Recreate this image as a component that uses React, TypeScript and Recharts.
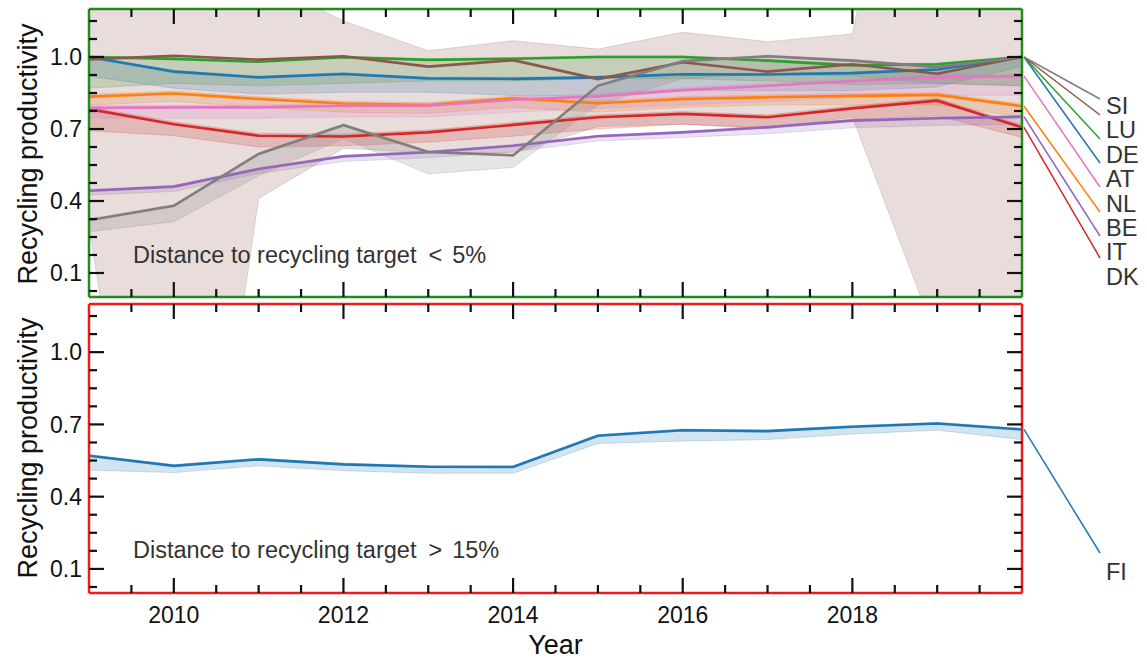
import { Area, ComposedChart, Line, XAxis, YAxis } from "recharts";

const FONT = "'Liberation Sans', Arial, Helvetica, sans-serif";

const years = [2009, 2010, 2011, 2012, 2013, 2014, 2015, 2016, 2017, 2018, 2019, 2020];

// distance to recycling target < 5%
const AT = [1.0, 0.939, 0.915, 0.929, 0.911, 0.909, 0.915, 0.928, 0.927, 0.933, 0.948, 1.0];
const AT_LOW = [0.92, 0.87, 0.845, 0.853, 0.853, 0.84, 0.835, 0.86, 0.86, 0.86, 0.875, 0.96];
const AT_HIGH = [1.0, 0.945, 0.92, 0.935, 0.915, 0.915, 0.92, 0.932, 0.932, 0.938, 0.952, 1.0];

const BE = [0.835, 0.848, 0.825, 0.806, 0.8, 0.828, 0.807, 0.825, 0.832, 0.838, 0.842, 0.795];
const BE_LOW = [0.8, 0.815, 0.79, 0.77, 0.765, 0.79, 0.77, 0.79, 0.8, 0.8, 0.8, 0.75];
const BE_HIGH = [0.845, 0.858, 0.835, 0.816, 0.81, 0.838, 0.817, 0.835, 0.842, 0.848, 0.852, 0.805];

const DE = [1.0, 0.992, 0.98, 0.999, 0.988, 0.993, 1.0, 1.0, 0.985, 0.965, 0.97, 1.0];
const DE_LOW = [0.87, 0.89, 0.88, 0.89, 0.9, 0.9, 0.91, 0.91, 0.9, 0.885, 0.89, 0.88];
const DE_HIGH = [1.005, 0.997, 0.985, 1.004, 0.993, 0.998, 1.005, 1.005, 0.99, 0.97, 0.975, 1.005];

const DK = [0.783, 0.72, 0.672, 0.669, 0.686, 0.717, 0.749, 0.763, 0.749, 0.786, 0.818, 0.707];
const DK_LOW = [0.693, 0.672, 0.625, 0.63, 0.645, 0.67, 0.7, 0.72, 0.705, 0.74, 0.755, 0.665];
const DK_HIGH = [0.793, 0.73, 0.682, 0.679, 0.696, 0.727, 0.759, 0.773, 0.759, 0.796, 0.828, 0.717];

const IT = [0.443, 0.46, 0.533, 0.586, 0.603, 0.63, 0.67, 0.686, 0.707, 0.735, 0.745, 0.751];
const IT_LOW = [0.425, 0.44, 0.515, 0.565, 0.58, 0.605, 0.65, 0.665, 0.68, 0.705, 0.715, 0.72];
const IT_HIGH = [0.448, 0.465, 0.538, 0.591, 0.608, 0.635, 0.675, 0.691, 0.712, 0.74, 0.75, 0.756];

const LU = [0.99, 1.005, 0.989, 1.003, 0.96, 0.987, 0.908, 0.978, 0.939, 0.97, 0.93, 1.0];
const LU_LOW = [0.3, -2.0, 0.41, 0.62, 0.6, 0.6, 0.71, 0.72, 0.7, 0.75, -0.18, -0.8];
const LU_HIGH = [1.6, 2.0, 1.33, 1.15, 1.026, 1.068, 1.033, 1.103, 1.064, 1.096, 2.8, 2.8];

const NL = [0.788, 0.79, 0.79, 0.797, 0.797, 0.822, 0.836, 0.862, 0.88, 0.9, 0.915, 0.92];
const NL_LOW = [0.745, 0.745, 0.745, 0.75, 0.75, 0.77, 0.785, 0.8, 0.815, 0.83, 0.84, 0.84];
const NL_HIGH = [0.798, 0.8, 0.8, 0.807, 0.807, 0.832, 0.846, 0.872, 0.89, 0.91, 0.925, 0.93];

const SI = [0.32, 0.38, 0.596, 0.716, 0.604, 0.59, 0.88, 0.982, 1.003, 0.985, 0.958, 1.0];
const SI_LOW = [0.272, 0.314, 0.505, 0.66, 0.513, 0.54, 0.8, 0.91, 0.93, 0.92, 0.89, 0.88];
const SI_HIGH = [0.325, 0.385, 0.601, 0.721, 0.609, 0.595, 0.885, 0.987, 1.008, 0.99, 0.963, 1.005];

// distance to recycling target > 15%
const FI = [0.57, 0.528, 0.555, 0.534, 0.524, 0.523, 0.653, 0.676, 0.672, 0.69, 0.704, 0.679];
const FI_LOW = [0.51, 0.5, 0.528, 0.508, 0.497, 0.497, 0.621, 0.631, 0.637, 0.66, 0.676, 0.637];
const FI_HIGH = [0.575, 0.533, 0.56, 0.539, 0.529, 0.528, 0.658, 0.681, 0.677, 0.695, 0.709, 0.684];

const xTicks = [2009.5, 2010, 2010.5, 2011, 2011.5, 2012, 2012.5, 2013, 2013.5, 2014, 2014.5, 2015, 2015.5, 2016, 2016.5, 2017, 2017.5, 2018, 2018.5, 2019, 2019.5];
const xMajor = [2010, 2012, 2014, 2016, 2018];
const yTicks = [0.025, 0.1, 0.175, 0.25, 0.325, 0.4, 0.475, 0.55, 0.625, 0.7, 0.775, 0.85, 0.925, 1.0, 1.075, 1.15];
const yMajor = ["0.1", "0.4", "0.7", "1.0"];

// slot = position of the name in the right-hand column, top to bottom
const topSeries = [
  { key: "AT", color: "#1f77b4", values: AT, low: AT_LOW, high: AT_HIGH, slot: 3 },
  { key: "BE", color: "#ff7f0e", values: BE, low: BE_LOW, high: BE_HIGH, slot: 5 },
  { key: "DE", color: "#2ca02c", values: DE, low: DE_LOW, high: DE_HIGH, slot: 2 },
  { key: "DK", color: "#d62728", values: DK, low: DK_LOW, high: DK_HIGH, slot: 7 },
  { key: "IT", color: "#9467bd", values: IT, low: IT_LOW, high: IT_HIGH, slot: 6 },
  { key: "LU", color: "#8c564b", values: LU, low: LU_LOW, high: LU_HIGH, slot: 1 },
  { key: "NL", color: "#e377c2", values: NL, low: NL_LOW, high: NL_HIGH, slot: 4 },
  { key: "SI", color: "#7f7f7f", values: SI, low: SI_LOW, high: SI_HIGH, slot: 0 }
];
const linkEndY = [99, 115, 139, 163, 187, 212, 236, 258];

const W = 1147;
const TOP_H = 300;
const BOTTOM_H = 359;
const LABEL_X = 1106;
const LINK_X = 1100;

const topRows = years.map((year, i) => {
  const row: Record<string, any> = { year };
  topSeries.forEach((s) => {
    row[s.key] = s.values[i];
    row[s.key + "_band"] = [s.low[i], s.high[i]];
  });
  return row;
});

const bottomRows = years.map((year, i) => ({ year, FI: FI[i], FI_band: [FI_LOW[i], FI_HIGH[i]] }));

function xTick(side: "top" | "bottom", labels: boolean) {
  return (props: any) => {
    const { x, y, payload } = props;
    const major = xMajor.includes(payload.value);
    const len = major ? 15 : 8;
    const dir = side === "bottom" ? -1 : 1;
    return (
      <g>
        <line x1={x} x2={x} y1={y} y2={y + dir * len} stroke="#111" strokeWidth={2.2} />
        {labels && major && (
          <text x={x} y={y + 30} textAnchor="middle" fontSize={23} fontFamily={FONT} fill="#111">
            {payload.value}
          </text>
        )}
      </g>
    );
  };
}

function yTick(side: "left" | "right") {
  return (props: any) => {
    const { x, y, payload } = props;
    const text = payload.value.toFixed(1);
    const major = yMajor.includes(text) && Math.abs(payload.value * 10 - Math.round(payload.value * 10)) < 1e-6;
    const len = major ? 15 : 8;
    const dir = side === "left" ? 1 : -1;
    return (
      <g>
        <line x1={x} x2={x + dir * len} y1={y} y2={y} stroke="#111" strokeWidth={2.2} />
        {side === "left" && major && (
          <text x={x - 7} y={y + 8.2} textAnchor="end" fontSize={23} fontFamily={FONT} fill="#111">
            {text}
          </text>
        )}
      </g>
    );
  };
}

function endLabel(name: string, color: string, textY: number, endY: number) {
  return (props: any) => {
    if (props.index !== years.length - 1) return null;
    const px = props.viewBox?.x ?? props.x;
    const py = props.viewBox?.y ?? props.y;
    return (
      <g>
        <line x1={px + 2} y1={py} x2={LINK_X} y2={endY} stroke={color} strokeWidth={1.5} />
        <text x={LABEL_X} y={textY} fontSize={23.5} fontFamily={FONT} fill="#333">
          {name}
        </text>
      </g>
    );
  };
}

// axes of 1px so that they are drawn; they make the coloured frame and the inward ticks
function Axes({ frame, labels }: { frame: string; labels: boolean }) {
  const line = { stroke: frame, strokeWidth: 2.5 };
  return [
    <XAxis key="xb" dataKey="year" type="number" domain={[2009, 2020]} ticks={xTicks} interval={0} height={1}
      tickSize={0} tickMargin={0} tickLine={false} axisLine={line} tick={xTick("bottom", labels)} allowDataOverflow />,
    <XAxis key="xt" xAxisId="top" orientation="top" dataKey="year" type="number" domain={[2009, 2020]} ticks={xTicks}
      interval={0} height={1} tickSize={0} tickMargin={0} tickLine={false} axisLine={line} tick={xTick("top", false)} allowDataOverflow />,
    <YAxis key="yl" type="number" domain={[0, 1.2]} ticks={yTicks} interval={0} width={1} tickSize={0} tickMargin={0}
      tickLine={false} axisLine={line} tick={yTick("left")} allowDataOverflow />,
    <YAxis key="yr" yAxisId="right" orientation="right" type="number" domain={[0, 1.2]} ticks={yTicks} interval={0}
      width={1} tickSize={0} tickMargin={0} tickLine={false} axisLine={line} tick={yTick("right")} allowDataOverflow />
  ];
}

export default function App() {
  return (
    <div style={{ position: "absolute", left: 0, top: 0, width: W, height: 659, background: "#fff" }}>
      <div style={{ position: "absolute", left: 0, top: 0 }}>
        <ComposedChart width={W} height={TOP_H} data={topRows} margin={{ top: 8, right: W - 1023, bottom: 2, left: 88 }}>
          {topSeries.map((s) => (
            <Area key={s.key + "_band"} dataKey={s.key + "_band"} type="linear" fill={s.color} fillOpacity={0.2}
              stroke={s.color} strokeOpacity={0.2} strokeWidth={1} isAnimationActive={false} activeDot={false} />
          ))}
          {topSeries.map((s) => (
            <Line key={s.key} dataKey={s.key} type="linear" stroke={s.color} strokeWidth={2.6} dot={false}
              activeDot={false} isAnimationActive={false}
              label={endLabel(s.key, s.color, 113.9 + 24.4 * s.slot, linkEndY[s.slot])} />
          ))}
          {Axes({ frame: "#1e8c1e", labels: false })}
        </ComposedChart>
      </div>
      <div style={{ position: "absolute", left: 0, top: TOP_H }}>
        <ComposedChart width={W} height={BOTTOM_H} data={bottomRows} margin={{ top: 3, right: W - 1023, bottom: 65, left: 88 }}>
          <Area dataKey="FI_band" type="linear" fill="#1f77b4" fillOpacity={0.2} stroke="#1f77b4" strokeOpacity={0.2}
            strokeWidth={1} isAnimationActive={false} activeDot={false} />
          <Line dataKey="FI" type="linear" stroke="#1f77b4" strokeWidth={2.6} dot={false} activeDot={false}
            isAnimationActive={false} label={endLabel("FI", "#1f77b4", 280.4, 253)} />
          {Axes({ frame: "#ee1c1c", labels: true })}
        </ComposedChart>
      </div>
      <svg width={W} height={659} style={{ position: "absolute", left: 0, top: 0, pointerEvents: "none" }}>
        <g fontFamily={FONT}>
          <text transform="translate(36.5,154) rotate(-90)" textAnchor="middle" fontSize={27} fill="#111">
            Recycling productivity
          </text>
          <text transform="translate(36.5,448) rotate(-90)" textAnchor="middle" fontSize={27} fill="#111">
            Recycling productivity
          </text>
          <text x={555.5} y={654} textAnchor="middle" fontSize={27} fill="#111">
            Year
          </text>
          <text x={133} y={262.5} fontSize={23.5} fill="#333">
            Distance to recycling target<tspan dx={12}>&lt;</tspan>
            <tspan dx={10}>5%</tspan>
          </text>
          <text x={133} y={558} fontSize={23.5} fill="#333">
            Distance to recycling target<tspan dx={12}>&gt;</tspan>
            <tspan dx={10}>15%</tspan>
          </text>
        </g>
      </svg>
    </div>
  );
}
